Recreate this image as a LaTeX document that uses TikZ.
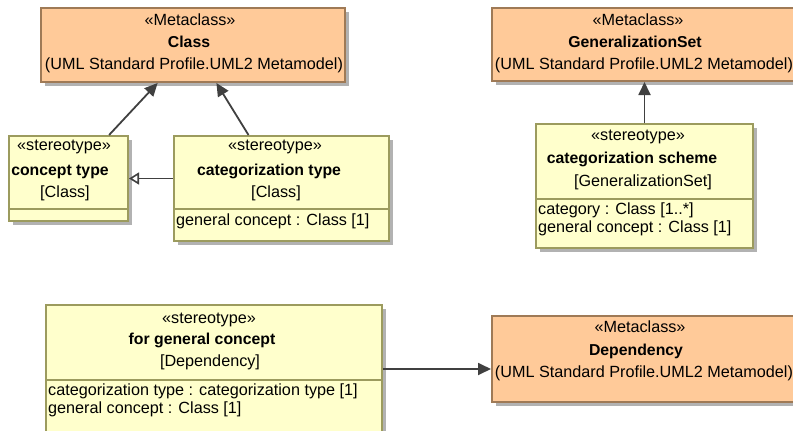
\documentclass[tikz,border=0pt]{standalone}
\usepackage{fontspec}
\setmainfont{Liberation Sans}
\usepackage{xcolor}
\usepackage{tikz}
\usetikzlibrary{positioning,arrows.meta,shadows}
\definecolor{cmeta}{HTML}{FFCA99}
\definecolor{cmetaline}{HTML}{9F7A56}
\definecolor{cstereo}{HTML}{FFFFCC}
\definecolor{cstereoline}{HTML}{9C9B5E}
\definecolor{carrow}{HTML}{404040}
\tikzset{
  umlbox/.style={rectangle, anchor=north west, line width=2pt, inner sep=0pt,
    drop shadow={shadow xshift=4pt, shadow yshift=-4pt, fill=black!30, opacity=1}},
  metabox/.style={umlbox, draw=cmetaline, fill=cmeta},
  stereobox/.style={umlbox, draw=cstereoline, fill=cstereo},
  boxline/.style={line width=2pt, draw=cstereoline},
  txt/.style={inner sep=0pt, text height=11.5pt, text depth=0pt,
    font=\fontsize{16.2}{19}\selectfont},
  boldtxt/.style={txt, font=\fontsize{15.8}{19}\selectfont\bfseries},
  attrtxt/.style={txt, anchor=west},
  genarrow/.style={-{Triangle[length=13pt,width=12pt]}, line width=1.8pt, draw=carrow, fill=carrow},
  openarrow/.style={-{Triangle[open,length=10pt,width=12pt]}, line width=1.6pt, draw=carrow, fill=white}
}

\begin{document}
\begin{tikzpicture}[x=1pt, y=-1pt]
    \useasboundingbox (0,0) rectangle (793,431);
    \clip (0,0) rectangle (793,431);

    % metaclasses
    \node[metabox, minimum width=304pt, minimum height=74pt] (cls) at (40,7) {};
    \node[txt] (clsst) at (190,20) {«Metaclass»};
    \node[boldtxt] (clsname) at (189,42) {Class};
    \node[txt] (clsfrom) at (194,64) {(UML Standard Profile.UML2 Metamodel)};

    \node[metabox, minimum width=305pt, minimum height=73pt] (gset) at (491,7) {};
    \node[txt] (gsetst) at (638,20) {«Metaclass»};
    \node[boldtxt] (gsetname) at (635,42) {GeneralizationSet};
    \node[txt] (gsetfrom) at (644,64) {(UML Standard Profile.UML2 Metamodel)};

    \node[metabox, minimum width=305pt, minimum height=86pt] (dep) at (491,315) {};
    \node[txt] (depst) at (640,327) {«Metaclass»};
    \node[boldtxt] (depname) at (636,350) {Dependency};
    \node[txt] (depfrom) at (644,372) {(UML Standard Profile.UML2 Metamodel)};

    % stereotypes
    \node[stereobox, minimum width=119pt, minimum height=85pt] (ctype) at (8,135) {};
    \node[txt] (ctypest) at (64,145) {«stereotype»};
    \node[boldtxt] (ctypename) at (60,170) {concept type};
    \node[txt] (ctypebase) at (65,192) {[Class]};
    \draw[boxline] ([yshift=13pt]ctype.south west) -- ([yshift=13pt]ctype.south east);

    \node[stereobox, minimum width=215pt, minimum height=105pt] (cattype) at (173,135) {};
    \node[txt] (cattypest) at (275,145) {«stereotype»};
    \node[boldtxt] (cattypename) at (269,170) {categorization type};
    \node[txt] (cattypebase) at (276,192) {[Class]};
    \draw[boxline] ([yshift=33pt]cattype.south west) -- ([yshift=33pt]cattype.south east);
    \node[attrtxt] (cattypeattr) at (176,220) {general concept : Class [1]};

    \node[stereobox, minimum width=217pt, minimum height=124pt] (cscheme) at (535,123) {};
    \node[txt] (cschemest) at (638,135) {«stereotype»};
    \node[boldtxt] (cschemename) at (632,158) {categorization scheme};
    \node[txt] (cschemebase) at (643,181) {[GeneralizationSet]};
    \draw[boxline] ([yshift=50pt]cscheme.south west) -- ([yshift=50pt]cscheme.south east);
    \node[attrtxt] (cschemeattra) at (538,209) {category : Class [1..*]};
    \node[attrtxt] (cschemeattrb) at (538,227) {general concept : Class [1]};

    \node[stereobox, minimum width=336pt, minimum height=128pt] (fgc) at (45,304) {};
    \node[txt] (fgcst) at (209,318) {«stereotype»};
    \node[boldtxt] (fgcname) at (202,339) {for general concept};
    \node[txt] (fgcbase) at (210,361) {[Dependency]};
    \draw[boxline] ([yshift=54pt]fgc.south west) -- ([yshift=54pt]fgc.south east);
    \node[attrtxt] (fgcattra) at (48,390) {categorization type : categorization type [1]};
    \node[attrtxt] (fgcattrb) at (48,408) {general concept : Class [1]};

    % connectors
    \draw[genarrow] (ctype) -- (cls);
    \draw[genarrow] (cattype) -- (cls);
    \draw[openarrow] (cattype.west |- ctype.east) -- (ctype.east);
    \draw[genarrow] (cscheme) -- (gset);
    \draw[genarrow] (fgc.east) -- (fgc.east -| dep.west);
  \end{tikzpicture}
\end{document}
